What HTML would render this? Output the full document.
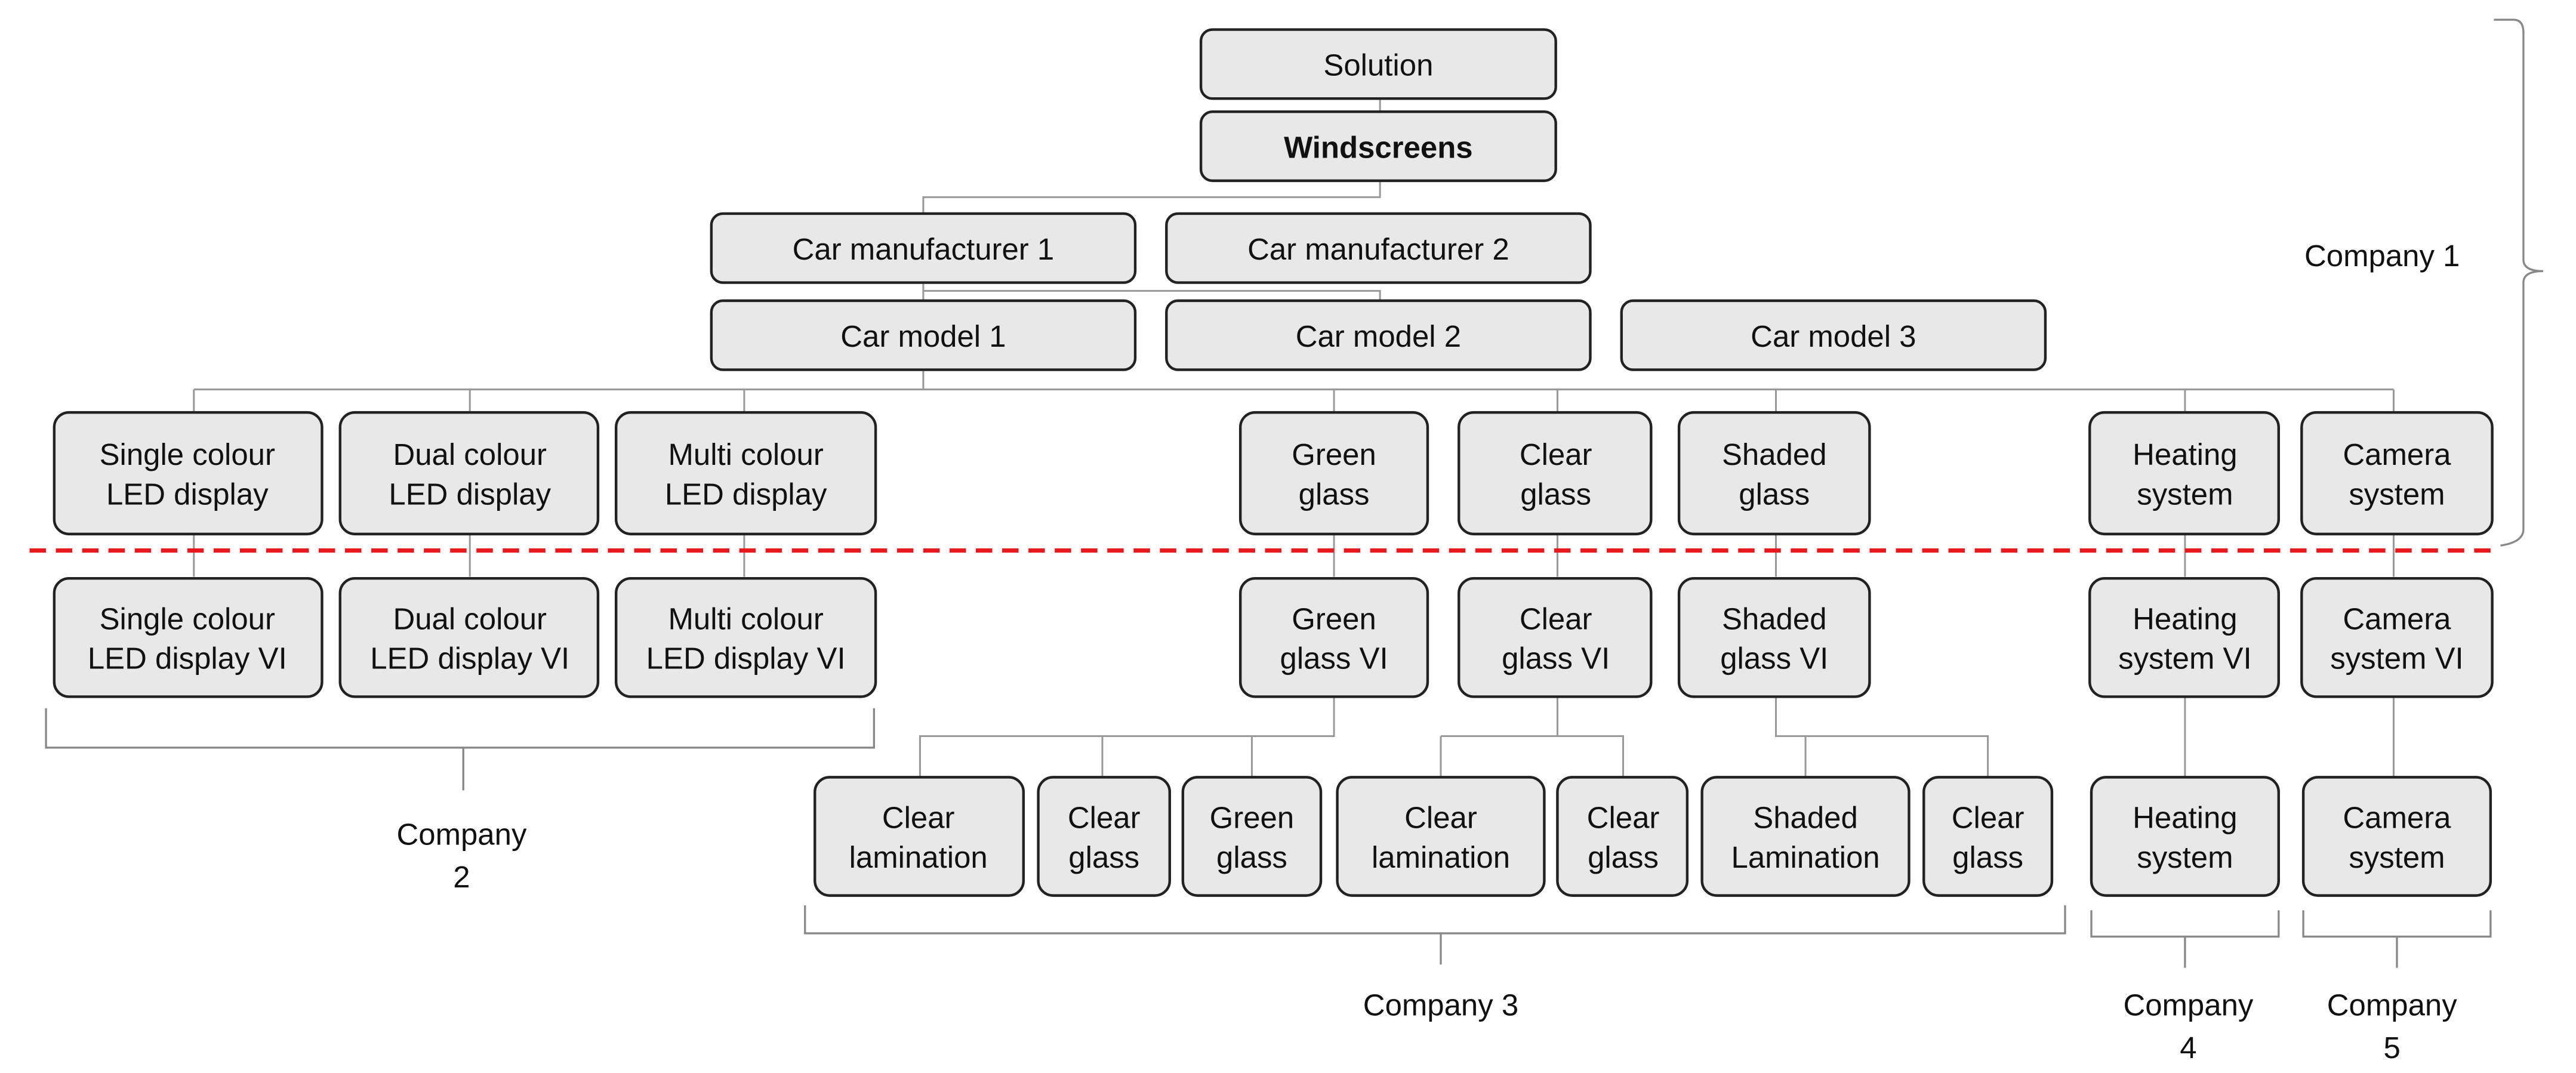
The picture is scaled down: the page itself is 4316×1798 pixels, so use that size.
<!DOCTYPE html>
<html><head><meta charset="utf-8"><style>
html,body{margin:0;padding:0;background:#fff}
svg{display:block}
text{font-family:"Liberation Sans",sans-serif;font-size:18.5px;fill:#111;text-anchor:middle}
.b{fill:#e8e8e8;stroke:#222;stroke-width:1.6}
.c{stroke:#999;stroke-width:1.1;fill:none}
.br{stroke:#888;stroke-width:1.2;fill:none}
</style></head><body>
<svg width="4316" height="1798" viewBox="0 0 1568 653" preserveAspectRatio="none" xmlns="http://www.w3.org/2000/svg">
<path class="c" d="M840 60V68 M840 110V120H562V130 M562 172V183 M562 177H840V183 M562 225V237 M118 237H1457 M118 237V251 M286 237V251 M453 237V251 M812 237V251 M948 237V251 M1081 237V251 M1330 237V251 M1457 237V251"/>
<path class="c" d="M118 325V351 M286 325V351 M453 325V351 M812 325V351 M948 325V351 M1081 325V351 M1330 325V351 M1457 325V351"/>
<path class="c" d="M812 424V448H560V473 M671 448V473 M762 448V473 M948 424V448 M877 448H988V473 M877 448V473 M1081 424V448H1210V473 M1099 448V473 M1330 424V473 M1457 424V473"/>
<rect class="b" x="731" y="18" width="216" height="42" rx="7"/>
<rect class="b" x="731" y="68" width="216" height="42" rx="7"/>
<rect class="b" x="433" y="130" width="258" height="42" rx="7"/>
<rect class="b" x="710" y="130" width="258" height="42" rx="7"/>
<rect class="b" x="433" y="183" width="258" height="42" rx="7"/>
<rect class="b" x="710" y="183" width="258" height="42" rx="7"/>
<rect class="b" x="987" y="183" width="258" height="42" rx="7"/>
<g>
<rect class="b" x="33" y="251" width="163" height="74" rx="9"/>
<rect class="b" x="207" y="251" width="157" height="74" rx="9"/>
<rect class="b" x="375" y="251" width="158" height="74" rx="9"/>
<rect class="b" x="755" y="251" width="114" height="74" rx="9"/>
<rect class="b" x="888" y="251" width="117" height="74" rx="9"/>
<rect class="b" x="1022" y="251" width="116" height="74" rx="9"/>
<rect class="b" x="1272" y="251" width="115" height="74" rx="9"/>
<rect class="b" x="1401" y="251" width="116" height="74" rx="9"/>
</g>
<g>
<rect class="b" x="33" y="352" width="163" height="72" rx="9"/>
<rect class="b" x="207" y="352" width="157" height="72" rx="9"/>
<rect class="b" x="375" y="352" width="158" height="72" rx="9"/>
<rect class="b" x="755" y="352" width="114" height="72" rx="9"/>
<rect class="b" x="888" y="352" width="117" height="72" rx="9"/>
<rect class="b" x="1022" y="352" width="116" height="72" rx="9"/>
<rect class="b" x="1272" y="352" width="115" height="72" rx="9"/>
<rect class="b" x="1401" y="352" width="116" height="72" rx="9"/>
</g>
<g>
<rect class="b" x="496" y="473" width="127" height="72" rx="9"/>
<rect class="b" x="632" y="473" width="80" height="72" rx="9"/>
<rect class="b" x="720" y="473" width="84" height="72" rx="9"/>
<rect class="b" x="814" y="473" width="126" height="72" rx="9"/>
<rect class="b" x="948" y="473" width="79" height="72" rx="9"/>
<rect class="b" x="1036" y="473" width="126" height="72" rx="9"/>
<rect class="b" x="1171" y="473" width="78" height="72" rx="9"/>
<rect class="b" x="1273" y="473" width="114" height="72" rx="9"/>
<rect class="b" x="1402" y="473" width="114" height="72" rx="9"/>
</g>
<line x1="18" y1="335" x2="1522" y2="335" stroke="#e8191c" stroke-width="2.6" stroke-dasharray="10 6"/>
<path class="br" d="M28 431V455H532V431 M282 455V481"/>
<path class="br" d="M490 551V568H1257V551 M877 568V587"/>
<path class="br" d="M1273 554V570H1387V554 M1330 570V589"/>
<path class="br" d="M1402 554V570H1516V554 M1459 570V589"/>
<path class="br" d="M1518 12H1530Q1536 12 1536 20V158Q1536 165 1548 165Q1536 165 1536 172V322Q1536 330 1522 332"/>
<text x="839" y="46">Solution</text>
<text x="839" y="96" font-weight="bold">Windscreens</text>
<text x="562" y="158">Car manufacturer 1</text>
<text x="839" y="158">Car manufacturer 2</text>
<text x="562" y="211">Car model 1</text>
<text x="839" y="211">Car model 2</text>
<text x="1116" y="211">Car model 3</text>
<g>
<text x="114" y="283">Single colour</text><text x="114" y="307">LED display</text>
<text x="286" y="283">Dual colour</text><text x="286" y="307">LED display</text>
<text x="454" y="283">Multi colour</text><text x="454" y="307">LED display</text>
<text x="812" y="283">Green</text><text x="812" y="307">glass</text>
<text x="947" y="283">Clear</text><text x="947" y="307">glass</text>
<text x="1080" y="283">Shaded</text><text x="1080" y="307">glass</text>
<text x="1330" y="283">Heating</text><text x="1330" y="307">system</text>
<text x="1459" y="283">Camera</text><text x="1459" y="307">system</text>
</g>
<g>
<text x="114" y="383">Single colour</text><text x="114" y="407">LED display VI</text>
<text x="286" y="383">Dual colour</text><text x="286" y="407">LED display VI</text>
<text x="454" y="383">Multi colour</text><text x="454" y="407">LED display VI</text>
<text x="812" y="383">Green</text><text x="812" y="407">glass VI</text>
<text x="947" y="383">Clear</text><text x="947" y="407">glass VI</text>
<text x="1080" y="383">Shaded</text><text x="1080" y="407">glass VI</text>
<text x="1330" y="383">Heating</text><text x="1330" y="407">system VI</text>
<text x="1459" y="383">Camera</text><text x="1459" y="407">system VI</text>
</g>
<g>
<text x="559" y="504">Clear</text><text x="559" y="528">lamination</text>
<text x="672" y="504">Clear</text><text x="672" y="528">glass</text>
<text x="762" y="504">Green</text><text x="762" y="528">glass</text>
<text x="877" y="504">Clear</text><text x="877" y="528">lamination</text>
<text x="988" y="504">Clear</text><text x="988" y="528">glass</text>
<text x="1099" y="504">Shaded</text><text x="1099" y="528">Lamination</text>
<text x="1210" y="504">Clear</text><text x="1210" y="528">glass</text>
<text x="1330" y="504">Heating</text><text x="1330" y="528">system</text>
<text x="1459" y="504">Camera</text><text x="1459" y="528">system</text>
</g>
<text x="1450" y="162">Company 1</text>
<text x="281" y="514">Company</text><text x="281" y="540">2</text>
<text x="877" y="618">Company 3</text>
<text x="1332" y="618">Company</text><text x="1332" y="644">4</text>
<text x="1456" y="618">Company</text><text x="1456" y="644">5</text>
</svg>
</body></html>
